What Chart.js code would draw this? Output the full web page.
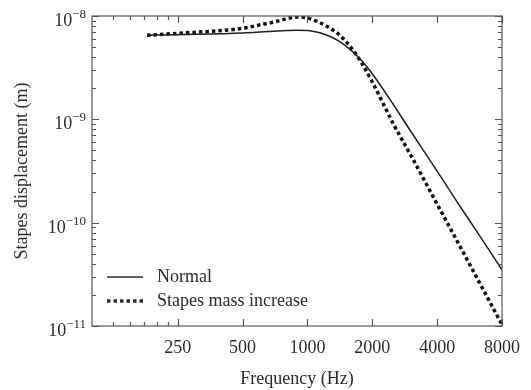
<!DOCTYPE html>
<html>
<head>
<meta charset="utf-8">
<script src="https://cdn.jsdelivr.net/npm/chart.js@4.4.1/dist/chart.umd.min.js"></script>
<style>
  html, body { margin: 0; padding: 0; background: #fff; }
  #wrap { width: 531px; height: 390px; position: relative; }
</style>
</head>
<body>
<div id="wrap"><canvas id="c"></canvas></div>
<script>
// frequency (Hz) shared by both curves
const freq = [180, 250, 500, 600, 700, 800, 900, 1000, 1200, 1400, 1600, 1800, 2000, 2500, 3000, 4000, 5000, 6000, 8000];
// stapes displacement (m)
const normal = [6.5e-9, 6.6e-9, 6.85e-9, 7.0e-9, 7.12e-9, 7.22e-9, 7.27e-9, 7.24e-9, 6.65e-9, 5.72e-9, 4.62e-9, 3.63e-9, 2.76e-9, 1.4e-9, 7.8e-10, 3.15e-10, 1.54e-10, 8.7e-11, 3.5e-11];
const massIncrease = [6.5e-9, 6.8e-9, 7.6e-9, 8.2e-9, 8.75e-9, 9.4e-9, 9.78e-9, 9.57e-9, 8.18e-9, 6.62e-9, 4.9e-9, 3.4e-9, 2.3e-9, 9.1e-10, 4.6e-10, 1.51e-10, 6.4e-11, 3.15e-11, 1.03e-11];

const xMajor = [250, 500, 1000, 2000, 4000, 8000];
const xMinor = [125, 150, 175, 200, 225];
const yExp = [-8, -9, -10, -11];
const seriesNames = ["Normal", "Stapes mass increase"];

const SERIF = "'Liberation Serif', 'Times New Roman', serif";
const INK = "#2b2b2b";

const pts = (ys) => freq.map((f, i) => ({ x: f, y: ys[i] }));

// minor decade ticks 2..9 × 10^e
const yMinor = [];
for (const e of [-11, -10, -9]) for (let m = 2; m <= 9; m++) yMinor.push(m * Math.pow(10, e));

// inward ticks on all four sides, superscript y labels, inset legend
const frame = {
  id: "frame",
  afterDraw(chart) {
    const { ctx, chartArea: a, scales: { x, y } } = chart;
    ctx.save();
    ctx.strokeStyle = "#555"; ctx.lineWidth = 1.2;
    ctx.strokeRect(a.left, a.top, a.right - a.left, a.bottom - a.top);
    ctx.beginPath();
    const xt = (v, len) => {
      const p = Math.round(x.getPixelForValue(v)) + 0.5;
      ctx.moveTo(p, a.bottom); ctx.lineTo(p, a.bottom - len);
      ctx.moveTo(p, a.top); ctx.lineTo(p, a.top + len);
    };
    const yt = (v, len) => {
      const p = Math.round(y.getPixelForValue(v)) + 0.5;
      ctx.moveTo(a.left, p); ctx.lineTo(a.left + len, p);
      ctx.moveTo(a.right, p); ctx.lineTo(a.right - len, p);
    };
    xMajor.forEach((v) => xt(v, 7));
    xMinor.forEach((v) => xt(v, 4));
    yExp.forEach((e) => yt(Math.pow(10, e), 7));
    yMinor.forEach((v) => yt(v, 4));
    ctx.stroke();

    // y labels 10^e
    ctx.fillStyle = INK;
    ctx.textBaseline = "alphabetic";
    yExp.forEach((e) => {
      const p = y.getPixelForValue(Math.pow(10, e));
      const sup = "\u2212" + Math.abs(e);
      ctx.font = "13px " + SERIF;
      const sw = ctx.measureText(sup).width;
      const rx = a.left - 6;
      ctx.textAlign = "right";
      ctx.fillText(sup, rx, p + 2);
      ctx.font = "18px " + SERIF;
      ctx.fillText("10", rx - sw, p + 10);
    });

    // legend
    const lx = a.left + 15, ly1 = a.bottom - 49, ly2 = a.bottom - 25;
    ctx.strokeStyle = INK;
    ctx.lineWidth = 1.5; ctx.setLineDash([]);
    ctx.beginPath(); ctx.moveTo(lx, ly1); ctx.lineTo(lx + 36, ly1); ctx.stroke();
    ctx.lineWidth = 3.5; ctx.setLineDash([3.5, 3]);
    ctx.beginPath(); ctx.moveTo(lx, ly2); ctx.lineTo(lx + 36, ly2); ctx.stroke();
    ctx.setLineDash([]);
    ctx.font = "18px " + SERIF;
    ctx.textAlign = "left"; ctx.textBaseline = "middle";
    ctx.fillText(seriesNames[0], lx + 50, ly1);
    ctx.fillText(seriesNames[1], lx + 50, ly2);
    ctx.restore();
  },
};

new Chart(document.getElementById("c"), {
  type: "line",
  data: {
    datasets: [
      { label: seriesNames[0], data: pts(normal), borderColor: "#1e1e1e", borderWidth: 1.5, pointRadius: 0, cubicInterpolationMode: "monotone", fill: false },
      { label: seriesNames[1], data: pts(massIncrease), borderColor: "#111", borderWidth: 3.5, borderDash: [3.5, 3], pointRadius: 0, cubicInterpolationMode: "monotone", fill: false },
    ],
  },
  options: {
    responsive: true, maintainAspectRatio: false, animation: false,
    layout: { padding: { top: 16, right: 26, left: 0, bottom: 0 } },
    plugins: { legend: { display: false }, tooltip: { enabled: false } },
    scales: {
      x: {
        type: "logarithmic", min: 100, max: 8000,
        afterBuildTicks: (s) => { s.ticks = xMinor.concat(xMajor).map((v) => ({ value: v })); },
        afterFit: (s) => { s.height = 64; },
        grid: { display: false, drawTicks: false },
        border: { display: false },
        ticks: { autoSkip: false, maxRotation: 0, padding: 11, color: INK, font: { family: SERIF, size: 18 },
          callback: (v) => (xMajor.includes(v) ? String(v) : "") },
        title: { display: true, text: "Frequency (Hz)", color: INK, font: { family: SERIF, size: 18 }, padding: { top: 0, bottom: 0 } },
      },
      y: {
        type: "logarithmic", min: 1e-11, max: 1e-8,
        afterFit: (s) => { s.width = 92; },
        grid: { display: false, drawTicks: false },
        border: { display: false },
        ticks: { display: false },
        title: { display: true, text: "Stapes displacement (m)", color: INK, font: { family: SERIF, size: 18 }, padding: { top: 11, bottom: 0 } },
      },
    },
  },
  plugins: [frame],
});
</script>
</body>
</html>
